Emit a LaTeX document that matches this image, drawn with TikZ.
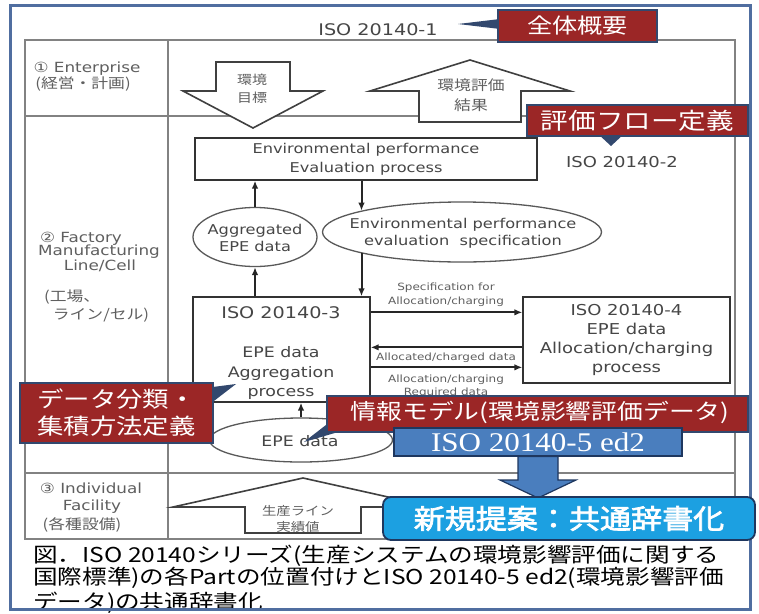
\documentclass[tikz,border=0pt]{standalone}
\usepackage{fontspec}
\setmainfont[FakeStretch=1.2]{DejaVu Sans}
\newfontfamily\jp[FakeStretch=1.2]{Noto Sans CJK JP}
\newfontfamily\jpbold[FakeStretch=1.15,FakeBold=2.5]{Noto Sans CJK JP}
\newfontfamily\isoserif[FakeStretch=1.15]{Liberation Serif}
\usetikzlibrary{shapes.geometric,calc,arrows.meta}
\newcommand{\fsz}[1]{\fontsize{#1}{#1}\selectfont}
\definecolor{tablegray}{RGB}{130,130,130}
\definecolor{labgray}{RGB}{95,95,95}
\definecolor{txtgray}{RGB}{70,70,70}
\definecolor{frameblue}{RGB}{80,110,160}
\definecolor{calred}{RGB}{155,38,38}
\definecolor{calborder}{RGB}{50,72,110}
\definecolor{midblue}{RGB}{74,126,190}
\definecolor{brightblue}{RGB}{28,160,225}
\definecolor{navy}{RGB}{30,55,95}
\tikzset{
  tline/.style={draw=tablegray, line width=1.6pt},
  rowlab/.style={text=labgray, font={\fsz{14}}, inner sep=0},
  rowlabjp/.style={text=labgray, font={\jp\fsz{14}}, inner sep=0},
  pbox/.style={draw=black!80, line width=1.3pt, fill=white, inner sep=0, text=txtgray},
  oval/.style={ellipse, draw=black!65, line width=1.3pt, inner sep=0},
  ovaltxt/.style={align=center, text=txtgray, inner sep=0, font={\fontsize{13.5}{17}\selectfont}},
  arr/.style={-{Latex[length=8pt,width=6.5pt]}, line width=2pt, draw=black!85},
  hollow/.style={draw=black!75, line width=1.6pt, fill=white},
  arrtxt/.style={text=labgray, inner sep=0},
  smalllab/.style={text=labgray, font={\fsz{10}}, inner sep=0},
  callout/.style={fill=calred, draw=calborder, line width=1.5pt, inner sep=0, text=white},
  pointer/.style={fill=calborder},
  captxt/.style={font={\jp\fsz{20.5}}, text=black, inner sep=0, anchor=west},
}
\begin{document}
\begin{tikzpicture}[x=1pt,y=-1pt]
\useasboundingbox (0,0) rectangle (759,613);
\fill[white] (0,0) rectangle (759,613);

% table
\draw[tline] (25,40) rectangle (735,539);
\draw[tline] (168,40) -- (168,539);
\draw[tline] (25,116) -- (735,116);
\draw[tline] (25,473) -- (735,473);

\node[font={\fsz{16}}, text=txtgray, inner sep=0] (iso1) at (378,30) {ISO 20140-1};

% row labels
\node[rowlab] (r1a) at (87,69) {① Enterprise};
\node[rowlabjp] (r1b) at (83,84) {(経営・計画)};
\node[rowlab] (r2a) at (81,239) {② Factory};
\node[rowlab] (r2b) at (99,252) {Manufacturing};
\node[rowlab] (r2c) at (100,266) {Line/Cell};
\node[rowlabjp, anchor=west] (r2d) at (44,297) {(工場、};
\node[rowlabjp] (r2e) at (101,315) {ライン/セル)};
\node[rowlab] (r3a) at (91,488) {③ Individual};
\node[rowlab] (r3b) at (92,507) {Facility};
\node[rowlabjp] (r3c) at (82,525) {(各種設備)};

% hollow arrows
\draw[hollow] (216,62) -- (290,62) -- (290,91) -- (323,91) -- (253,128) -- (183,91) -- (216,91) -- cycle;
\node[arrtxt, font={\jp\fsz{12.5}}] (t1a) at (252,80) {環境};
\node[arrtxt, font={\jp\fsz{12.5}}] (t1b) at (252,98) {目標};
\draw[hollow] (419,122) -- (521,122) -- (521,91) -- (570,91) -- (470,60) -- (370,91) -- (419,91) -- cycle;
\node[arrtxt, font={\jp\fsz{14}}] (t2a) at (471,85) {環境評価};
\node[arrtxt, font={\jp\fsz{14}}] (t2b) at (471,105) {結果};
\draw[hollow] (245,533) -- (361,533) -- (361,507) -- (433,507) -- (303,478) -- (173,507) -- (245,507) -- cycle;
\node[arrtxt, font={\jp\fsz{12}}] (t3a) at (298,511) {生産ライン};
\node[arrtxt, font={\jp\fsz{12}}] (t3b) at (298,527) {実績値};

% process boxes
\node[pbox, minimum width=342, minimum height=42, align=center, font={\fontsize{13.5}{19}\selectfont}] (evalp) at (366,159) {Environmental performance\\Evaluation process};
\node[font={\fsz{15}}, text=txtgray, inner sep=0] (iso2) at (622,162) {ISO 20140-2};
\node[oval, minimum width=124, minimum height=59] (agg) at (255,237) {};
\node[ovaltxt] (aggt) at (255,238) {Aggregated\\EPE data};
\node[oval, minimum width=279, minimum height=60] (spec) at (462,232) {};
\node[ovaltxt] (spect) at (463,233) {Environmental performance\\evaluation\ \ specification};
\node[pbox, minimum width=177, minimum height=105] (iso3) at (281.5,349.5) {};
\node[text=txtgray, font={\fsz{16}}, inner sep=0] (iso3t) at (281,313) {ISO 20140-3};
\node[text=txtgray, font={\fontsize{14.5}{19.5}\selectfont}, align=center, inner sep=0] (iso3b) at (281,373) {EPE data\\Aggregation\\process};
\node[pbox, minimum width=207, minimum height=86, align=center, font={\fontsize{15}{19}\selectfont}] (iso4) at (626.5,340) {ISO 20140-4\\EPE data\\Allocation/charging\\process};
\node[oval, minimum width=183, minimum height=44] (epe) at (301,440) {};
\node[ovaltxt, font={\fsz{14.5}}] (epet) at (300,441) {EPE data};

% connectors
\draw[arr] (agg.north) -- (agg.north |- evalp.south);
\draw[arr] (spec.168 |- evalp.south) -- (spec.168);
\draw[arr] (agg.south |- iso3.north) -- (agg.south);
\draw[arr] (spec.192) -- (spec.192 |- iso3.north);
\draw[arr] (epe.north) -- (epe.north |- iso3.south);
\draw[arr] ($(iso3.north east)+(0,16)$) -- ($(iso4.north west)+(0,16)$);
\draw[arr] ($(iso4.north west)+(0,51)$) -- ($(iso3.north east)+(0,51)$);
\draw[arr] ($(iso3.north east)+(0,71)$) -- ($(iso4.north west)+(0,71)$);
\node[smalllab] (l1a) at (446,288) {Specification for};
\node[smalllab] (l1b) at (446,302) {Allocation/charging};
\node[smalllab] (l2) at (446,358) {Allocated/charged data};
\node[smalllab] (l3a) at (446,380) {Allocation/charging};
\node[smalllab] (l3b) at (446,393) {Required data};

% caption
\node[captxt] (cap1) at (33,556) {図．ISO 20140シリーズ(生産システムの環境影響評価に関する};
\node[captxt] (cap2) at (33,578) {国際標準)の各Partの位置付けとISO 20140-5 ed2(環境影響評価};
\node[captxt] (cap3) at (33,603) {データ)の共通辞書化};

% frame
\draw[frameblue, line width=3pt] (10,5) rectangle (750,609);

% callouts
\fill[pointer] (500,19) -- (458,24) -- (500,29) -- cycle;
\node[callout, minimum width=159, minimum height=32, font={\jp\fsz{21}}] (c1) at (577.5,26) {全体概要};
\fill[pointer] (597,133) -- (611,146) -- (625,133) -- cycle;
\node[callout, minimum width=221, minimum height=31, font={\jp\fsz{23}}] (c2) at (637.5,120.5) {評価フロー定義};
\fill[pointer] (205,388) -- (236,384) -- (210,404) -- cycle;
\node[callout, minimum width=193, minimum height=60, align=center, font={\jp\fontsize{22}{27}\selectfont}] (c3) at (116.5,413) {データ分類・\\集積方法定義};
\fill[pointer] (335,418) -- (304,442) -- (345,430) -- cycle;
\node[callout, minimum width=421, minimum height=36] (c4) at (537.5,414) {};
\node[text=white, font={\jp\fsz{21.5}}, inner sep=0] (c4t) at (540,412) {情報モデル(環境影響評価データ)};
\node[fill=midblue, draw=navy, line width=1.5pt, minimum width=288, minimum height=28, inner sep=0, text=white, font={\isoserif\fsz{27}}] (iso5) at (538,442) {ISO 20140-5 ed2};
\coordinate (tipnew) at (538,498);
\draw[fill=midblue, draw=navy, line width=1.2pt] (518,456.5) -- (558,456.5) -- (558,480) -- (576,480) -- (tipnew) -- (500,480) -- (518,480) -- cycle;
\node[rounded corners=8pt, fill=brightblue, draw=navy, line width=1.8pt, minimum width=372, minimum height=43, inner sep=0, text=white, font={\jpbold\fsz{27}}] (newp) at (569,518.5) {新規提案：共通辞書化};
\end{tikzpicture}
\end{document}
